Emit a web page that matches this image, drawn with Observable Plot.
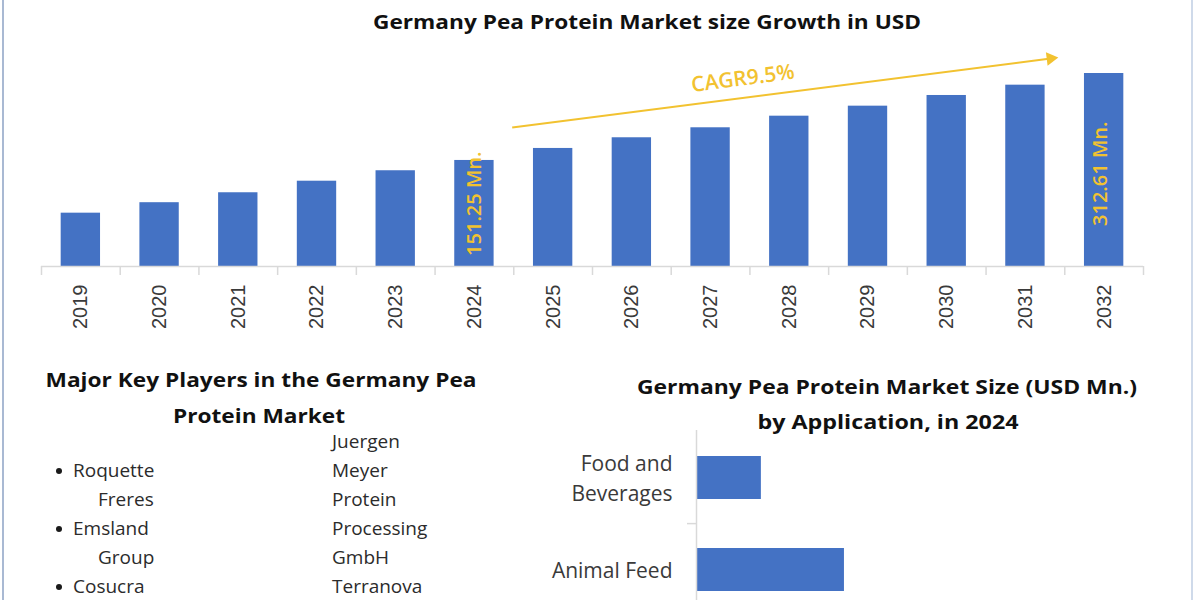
<!DOCTYPE html>
<html>
<head>
<meta charset="utf-8">
<script src="https://cdn.jsdelivr.net/npm/d3@7"></script>
<script src="https://cdn.jsdelivr.net/npm/@observablehq/plot@0.6"></script>
<style>
  html, body { margin: 0; padding: 0; background: #fff; }
  #page { position: relative; width: 1200px; height: 600px; overflow: hidden; background: #fff; font-family: "Open Sans", sans-serif; }
  .edge { position: absolute; top: 0; width: 2px; height: 600px; }
  .heading { position: absolute; white-space: nowrap; font-weight: 700; color: #111; line-height: 1; transform-origin: 50% 50%; }
  .chart { position: absolute; }
  .chart svg { overflow: visible; }
  .players { position: absolute; margin: 0; padding: 0; list-style: none; font-size: 19px; line-height: 29px; color: #2b2b2b; }
  .players li { position: relative; padding-left: 25px; text-indent: -25px; }
  .players.bulleted li::before { content: ""; position: absolute; left: -17px; top: 12px; width: 6px; height: 6px; border-radius: 50%; background: #1a1a1a; }
  .players.plain li { padding-left: 0; text-indent: 0; }
</style>
</head>
<body>
<div id="page">
  <div class="edge" style="left:2px;background:#a9b9d3"></div>
  <div class="edge" style="left:1191px;background:#cfdaea"></div>
  <div class="chart" id="growth" style="left:0;top:0"></div>
  <div class="chart" id="application" style="left:500px;top:420px"></div>
</div>
<script>
// Market size by year, USD Mn.
const years = [2019, 2020, 2021, 2022, 2023, 2024, 2025, 2026, 2027, 2028, 2029, 2030, 2031, 2032];
const marketSize = [97.4, 106.3, 115.5, 127.2, 138.8, 151.25, 167.2, 182.8, 198.7, 218.9, 238.0, 260.2, 283.6, 312.61];
const labelledYears = [2024, 2032];
const cagrText = "CAGR9.5%";

// Application split for 2024, USD Mn.
const applications = ["Food and Beverages", "Animal Feed"];
const applicationSize = [22.1, 50.4];

// Key players, in two columns
const playersLeft = ["Roquette Freres", "Emsland Group", "Cosucra"];
const playersRight = ["Juergen Meyer Protein Processing GmbH", "Terranova"];

const titleMain = "Germany Pea Protein Market size Growth in USD";
const titlePlayers = ["Major Key Players in the Germany Pea", "Protein Market"];
const titleApplication = ["Germany Pea Protein Market Size (USD Mn.)", "by Application, in 2024"];

const blue = "#4472c4";
const gold = "#f2c230";
const axisGrey = "#d9d9d9";

// ---------- growth chart ----------
const sizeData = years.map((year, i) => ({year, value: marketSize[i]}));
const yBase = 62.4, yTop = 411.8;
const boundaries = years.map(y => y - 0.5).concat([years[years.length - 1] + 0.5]);
const byYear = y => sizeData.filter(d => d.year === y);
const mnLabel = d => `${d.value.toFixed(2)} Mn.`;

// CAGR arrow drawn in data units (year, USD Mn.)
const cagrArrow = [{x1: 2024.48, y1: 199.2, x2: 2031.32, y2: 354.4, tx: 2027.41, ty: 299.7}];

const growth = Plot.plot({
  width: 1200,
  height: 350,
  marginLeft: 41,
  marginRight: 57,
  marginTop: 40,
  marginBottom: 84,
  x: {type: "linear", domain: [boundaries[0], boundaries[boundaries.length - 1]], axis: null},
  y: {type: "log", domain: [yBase, yTop], axis: null},
  marks: [
    Plot.rectY(sizeData, {x1: d => d.year - 0.25, x2: d => d.year + 0.25, y1: yBase, y2: "value", fill: blue}),
    Plot.ruleY([yBase], {stroke: axisGrey, strokeWidth: 1.5}),
    Plot.axisX(boundaries, {tickSize: 9, stroke: axisGrey, strokeWidth: 1.5, tickFormat: () => "", label: null}),
    Plot.axisX(years, {tickSize: 0, tickRotate: -90, tickPadding: 18, tickFormat: d => String(d), label: null,
      fontSize: 20, fontFamily: "Liberation Sans, Arial, sans-serif", fill: "#3a3a3a"}),
    Plot.text(byYear(labelledYears[0]), {x: "year", y: "value", text: mnLabel, rotate: -90, textAnchor: "end",
      dy: -9, fill: gold, fontSize: 20, fontWeight: 600, fontFamily: "Open Sans"}),
    Plot.text(byYear(labelledYears[1]), {x: "year", y: "value", text: mnLabel, rotate: -90, textAnchor: "end",
      dy: 48, dx: -4, fill: gold, fontSize: 20, fontWeight: 600, fontFamily: "Open Sans"}),
    Plot.link(cagrArrow, {x1: "x1", y1: "y1", x2: "x2", y2: "y2", stroke: gold, strokeWidth: 2}),
    Plot.dot(cagrArrow, {x: "x2", y: "y2", symbol: "triangle", r: 5, fill: gold, stroke: "none", rotate: 82.7}),
    Plot.text(cagrArrow, {x: "tx", y: "ty", text: () => cagrText, rotate: -7.5, fill: gold, fontSize: 21,
      fontWeight: 600, fontFamily: "Open Sans"})
  ]
});
document.getElementById("growth").append(growth);

// ---------- application chart ----------
const appData = applications.map((name, i) => ({name, value: applicationSize[i]}));
const total2024 = marketSize[years.indexOf(2024)];

const application = Plot.plot({
  width: 690,
  height: 200,
  marginLeft: 196,
  marginRight: 50,
  marginTop: 10,
  marginBottom: 4,
  x: {domain: [0, total2024], axis: null},
  y: {domain: applications, paddingInner: 0.535, paddingOuter: 0.27, axis: null},
  marks: [
    Plot.barX(appData, {x: "value", y: "name", fill: blue}),
    Plot.ruleX([0], {stroke: axisGrey, strokeWidth: 1.5}),
    Plot.ruleY([applications[1]], {x1: 0, x2: 0, insetLeft: -9, dy: -46.4, stroke: axisGrey, strokeWidth: 1.5}),
    Plot.axisY({tickSize: 0, tickPadding: 24, dy: -2, fontSize: 21, lineHeight: 1.43, fill: "#3a3a3a",
      fontFamily: "Open Sans", label: null, tickFormat: d => d.replace(" and ", " and\n")})
  ]
});
document.getElementById("application").append(application);

// ---------- headings ----------
const page = document.getElementById("page");
function heading(text, cx, cy, size, targetWidth) {
  const el = document.createElement("div");
  el.className = "heading";
  el.textContent = text;
  el.style.fontSize = size + "px";
  el.style.left = cx + "px";
  el.style.top = cy + "px";
  page.append(el);
  const w = el.getBoundingClientRect().width;
  el.style.transform = `translate(-50%, -50%) scaleX(${targetWidth / w})`;
}
heading(titleMain, 647, 22, 19, 548);
heading(titlePlayers[0], 260.5, 380, 19, 431);
heading(titlePlayers[1], 259, 416, 19, 172);
heading(titleApplication[0], 887, 387, 19, 500);
heading(titleApplication[1], 887.5, 422, 19, 261);

// ---------- players list ----------
function list(items, cls, left, top, width) {
  const ul = document.createElement("ul");
  ul.className = "players " + cls;
  ul.style.left = left + "px";
  ul.style.top = top + "px";
  ul.style.width = width + "px";
  for (const name of items) {
    const li = document.createElement("li");
    li.textContent = name;
    ul.append(li);
  }
  page.append(ul);
}
list(playersLeft, "bulleted", 73, 456, 100);
list(playersRight, "plain", 332, 427, 110);
</script>
</body>
</html>
